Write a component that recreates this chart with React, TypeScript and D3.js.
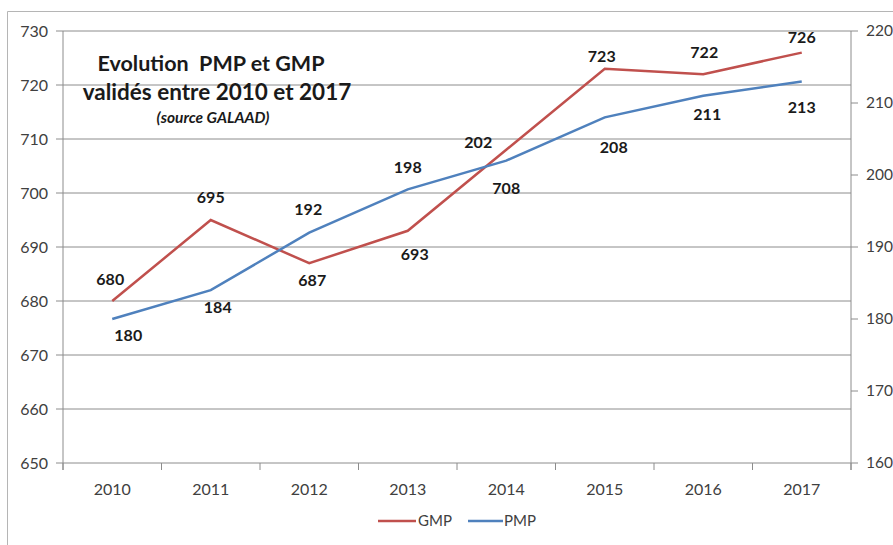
import React from 'react';
import * as d3 from 'd3';

const years = ['2010', '2011', '2012', '2013', '2014', '2015', '2016', '2017'];
const gmpValues = [680, 695, 687, 693, 708, 723, 722, 726];
const pmpValues = [180, 184, 192, 198, 202, 208, 211, 213];
const leftTicks = [650, 660, 670, 680, 690, 700, 710, 720, 730];
const rightTicks = [160, 170, 180, 190, 200, 210, 220];

// where each data label sits relative to its point (px)
const gmpLabelOffsets: [number, number][] = [
  [-2, -22], [0, -23], [3, 17], [7, 24], [0, 39], [-3, -12], [1, -22], [0, -15],
];
const pmpLabelOffsets: [number, number][] = [
  [16, 16], [7, 17], [-1, -23], [0, -22], [-28, -18], [9, 30], [4, 19], [0, 26],
];

const GMP_COLOR = '#C0504D';
const PMP_COLOR = '#4F81BD';
const FONT = 'Lato, "Open Sans", sans-serif';

const width = 893;
const height = 545;
const plot = { left: 63, right: 851, top: 31, bottom: 463 };

export default function App() {
  const x = d3.scalePoint<string>()
    .domain(years)
    .range([plot.left, plot.right])
    .padding(0.5);
  const yLeft = d3.scaleLinear().domain([650, 730]).range([plot.bottom, plot.top]);
  const yRight = d3.scaleLinear().domain([160, 220]).range([plot.bottom, plot.top]);

  const gmpLine = d3.line<number>()
    .x((_, i) => x(years[i]) as number)
    .y(d => yLeft(d));
  const pmpLine = d3.line<number>()
    .x((_, i) => x(years[i]) as number)
    .y(d => yRight(d));

  const step = x.step();
  const boundaries = d3.range(years.length + 1).map(i => plot.left + i * step);

  return (
    <div style={{ position: 'absolute', left: 0, top: 0 }}>
      <svg width={width} height={height} style={{ display: 'block', fontFamily: FONT }}>
        <rect x={0} y={0} width={width} height={height} fill="#fff" />
        {/* outer chart frame */}
        <path d={`M7.5,${height}V11.5H${width}`} fill="none" stroke="#b5b5b5" strokeWidth={1} />

        {/* gridlines */}
        {leftTicks.map(t => (
          <line key={t} x1={plot.left} x2={plot.right} y1={yLeft(t)} y2={yLeft(t)}
            stroke="#8c8c8c" strokeWidth={1} />
        ))}

        {/* left axis */}
        <line x1={plot.left} x2={plot.left} y1={plot.top} y2={plot.bottom + 7} stroke="#8c8c8c" />
        {leftTicks.map(t => (
          <g key={t}>
            <line x1={plot.left - 7} x2={plot.left} y1={yLeft(t)} y2={yLeft(t)} stroke="#8c8c8c" />
            <text x={48} y={yLeft(t)} dy="0.35em" textAnchor="end" fontSize={16} fill="#404040">{t}</text>
          </g>
        ))}

        {/* right axis */}
        <line x1={plot.right} x2={plot.right} y1={plot.top} y2={plot.bottom + 7} stroke="#8c8c8c" />
        {rightTicks.map(t => (
          <g key={t}>
            <line x1={plot.right} x2={plot.right + 7} y1={yRight(t)} y2={yRight(t)} stroke="#8c8c8c" />
            <text x={866} y={yRight(t)} dy="0.35em" textAnchor="start" fontSize={15.5} fill="#404040">{t}</text>
          </g>
        ))}

        {/* category axis */}
        {boundaries.map((b, i) => (
          <line key={i} x1={b} x2={b} y1={plot.bottom} y2={plot.bottom + 7} stroke="#8c8c8c" />
        ))}
        {years.map(yr => (
          <text key={yr} x={x(yr)} y={489} dy="0.35em" textAnchor="middle" fontSize={16} fill="#404040">{yr}</text>
        ))}

        {/* series */}
        <path d={gmpLine(gmpValues) || ''} fill="none" stroke={GMP_COLOR} strokeWidth={2.5} />
        <path d={pmpLine(pmpValues) || ''} fill="none" stroke={PMP_COLOR} strokeWidth={2.5} />

        {/* data labels */}
        {gmpValues.map((v, i) => (
          <text key={'g' + i} x={(x(years[i]) as number) + gmpLabelOffsets[i][0]}
            y={yLeft(v) + gmpLabelOffsets[i][1]} dy="0.35em" textAnchor="middle"
            fontSize={16} fontWeight="bold" fill="#1a1a1a">{v}</text>
        ))}
        {pmpValues.map((v, i) => (
          <text key={'p' + i} x={(x(years[i]) as number) + pmpLabelOffsets[i][0]}
            y={yRight(v) + pmpLabelOffsets[i][1]} dy="0.35em" textAnchor="middle"
            fontSize={16} fontWeight="bold" fill="#1a1a1a">{v}</text>
        ))}

        {/* title */}
        <text x={211} y={63} dy="0.35em" textAnchor="middle" fontSize={21.5} fontWeight="bold" fill="#1a1a1a"
          style={{ whiteSpace: 'pre' }}>
          {'Evolution  PMP et GMP'}
        </text>
        <text x={217} y={92} dy="0.35em" textAnchor="middle" fontSize={22.5} fontWeight="bold" fill="#1a1a1a">
          validés entre 2010 et 2017
        </text>
        <text x={213} y={118} dy="0.35em" textAnchor="middle" fontSize={15.5} fontWeight="bold"
          fontStyle="italic" fill="#1a1a1a">(source GALAAD)</text>

        {/* legend */}
        <line x1={378} x2={416} y1={521} y2={521} stroke={GMP_COLOR} strokeWidth={2.5} />
        <text x={418} y={521} dy="0.35em" fontSize={15} fill="#404040">GMP</text>
        <line x1={468} x2={503} y1={521} y2={521} stroke={PMP_COLOR} strokeWidth={2.5} />
        <text x={504} y={521} dy="0.35em" fontSize={15} fill="#404040">PMP</text>
      </svg>
    </div>
  );
}
